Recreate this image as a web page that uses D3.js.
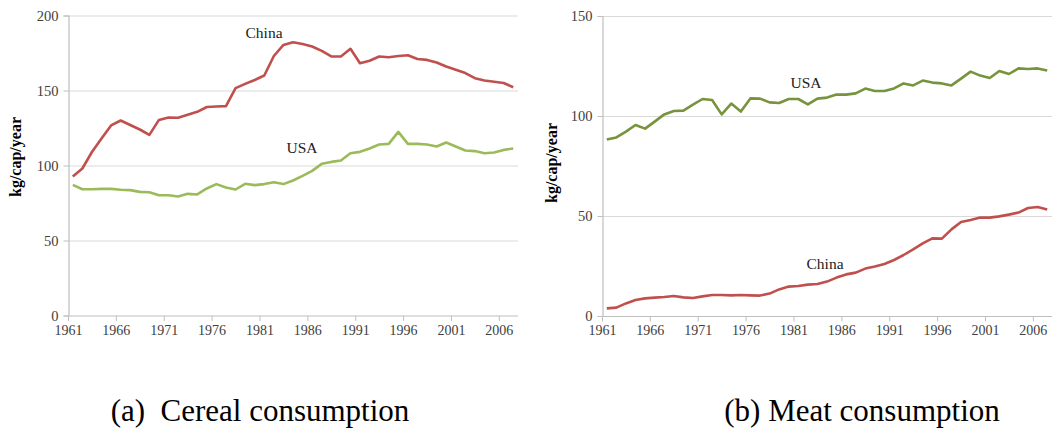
<!DOCTYPE html>
<html><head><meta charset="utf-8">
<script src="https://cdn.jsdelivr.net/npm/d3@7"></script>
<style>
body{margin:0;background:#fff;} svg{display:block;}
svg text{font-family:'Liberation Serif','Tinos','Times New Roman','DejaVu Serif',serif !important;}
</style>
</head><body>
<svg id="c" width="1059" height="433"></svg>
<script>
const years = d3.range(1961, 2008);
const xTicks = [1961,1966,1971,1976,1981,1986,1991,1996,2001,2006];
const cerealChina = [92.7,98,109,118,126.7,130,127,124,120.4,130.4,132,131.8,133.8,135.8,139,139.3,139.6,151.6,154.4,157,160,173,180.4,182.2,181,179.3,176.4,172.7,172.7,177.8,168.2,169.8,172.7,172.2,173,173.5,171,170.4,168.7,166,163.8,161.6,158.2,156.7,155.8,155,152.2];
const cerealUSA = [87.1,84.2,84.2,84.4,84.4,83.8,83.6,82.4,82.2,80.2,80.2,79.3,81.1,80.7,84.7,87.6,85.3,84,87.8,86.9,87.6,88.9,87.6,90,93.1,96.4,101.1,102.4,103.3,108.2,109.1,111.3,114,114.4,122.4,114.4,114.4,114,112.7,115.3,112.7,110,109.6,108.2,108.7,110.4,111.3];
const meatUSA = [88.3,89.3,92.2,95.5,93.7,97.2,100.8,102.5,102.7,105.7,108.5,108,100.8,106.2,102.2,108.8,108.7,106.8,106.5,108.5,108.5,105.8,108.7,109.2,110.7,110.7,111.3,113.7,112.5,112.5,113.8,116.3,115.3,117.7,116.7,116.3,115.3,118.7,122.2,120.2,119,122.5,121,123.8,123.5,123.8,122.7];
const meatChina = [3.8,4.2,6.3,8,8.8,9.2,9.5,10,9.3,9,9.8,10.5,10.5,10.3,10.5,10.3,10.2,11.2,13.3,14.7,15,15.7,16,17.2,19.2,20.8,21.7,23.7,24.7,26,28,30.5,33.3,36.3,38.8,38.7,43.3,47,48,49.2,49.2,49.8,50.7,51.7,54,54.5,53.3];
const cerealTicks = [0,50,100,150,200];
const meatTicks = [0,50,100,150];

const svg = d3.select('#c');

function panel(opt){
  const g = svg.append('g');
  const x = d3.scaleLinear().domain([1961, 2008]).range([opt.x0, opt.x1]);
  const y = d3.scaleLinear().domain([0, opt.ymax]).range([opt.y0, opt.y1]);
  g.selectAll('.grid').data(opt.yTicks.filter(d=>d>0)).enter().append('line')
    .attr('x1', opt.x0).attr('x2', opt.x1)
    .attr('y1', d=>y(d)+0.5).attr('y2', d=>y(d)+0.5)
    .attr('stroke', '#d9d9d9').attr('stroke-width', 1.2);
  const ya = g.append('g').attr('transform', `translate(${opt.x0+0.5},0)`)
    .call(d3.axisLeft(y).tickValues(opt.yTicks).tickSize(5).tickPadding(5).tickFormat(d3.format('d')));
  ya.select('.domain').attr('stroke', '#bfbfbf').attr('stroke-width',1.2);
  ya.selectAll('.tick line').attr('stroke', '#bfbfbf');
  ya.selectAll('.tick text').attr('font-size', 14.5).attr('fill', '#404040');
  ya.selectAll('.tick').attr('transform', d=>`translate(0,${y(d)+0.5})`);
  const xa = g.append('g').attr('transform', `translate(0,${opt.y0+0.5})`)
    .call(d3.axisBottom(x).tickValues(xTicks).tickSize(5).tickPadding(4).tickFormat(d3.format('d')));
  xa.select('.domain').attr('stroke', '#bfbfbf').attr('stroke-width',1.2).attr('d', `M${opt.x0},0H${opt.x1}`);
  xa.selectAll('.tick line').attr('stroke', '#bfbfbf');
  xa.selectAll('.tick text').attr('font-size', 14).attr('fill', '#404040');
  g.append('text').attr('transform', `translate(${opt.labX},${opt.labY}) rotate(-90)`)
    .attr('text-anchor','middle').attr('font-weight','bold')
    .attr('font-size', 16).attr('fill','#000').text('kg/cap/year');
  const line = d3.line().x((d,i)=>x(years[i]+0.5)).y(d=>y(d));
  opt.series.forEach(s=>{
    g.append('path').datum(s.values).attr('d', line).attr('fill','none')
      .attr('stroke', s.color).attr('stroke-width', 2.6).attr('stroke-linejoin','round');
    g.append('text').attr('x', s.lx).attr('y', s.ly).attr('text-anchor','middle')
      .attr('font-size', 15.5).attr('fill', '#222').text(s.name);
  });
  g.append('text').attr('x', opt.capX).attr('y', 421).attr('text-anchor','middle')
    .attr('font-size', 31).attr('fill','#000').text(opt.caption);
}

panel({x0:68, x1:518, y0:315.5, y1:15.5, ymax:200, yTicks:cerealTicks, labX:21, labY:157,
  capX:260, caption:'(a)\u00a0\u00a0Cereal consumption',
  series:[
    {name:'China', values:cerealChina, color:'#c0504d', lx:264, ly:38},
    {name:'USA', values:cerealUSA, color:'#9bbb59', lx:302, ly:153}
  ]});
panel({x0:602, x1:1052, y0:316, y1:16, ymax:150, yTicks:meatTicks, labX:557, labY:163,
  capX:862, caption:'(b) Meat consumption',
  series:[
    {name:'USA', values:meatUSA, color:'#77933c', lx:806, ly:88},
    {name:'China', values:meatChina, color:'#c0504d', lx:825, ly:269}
  ]});
</script>
</body></html>
